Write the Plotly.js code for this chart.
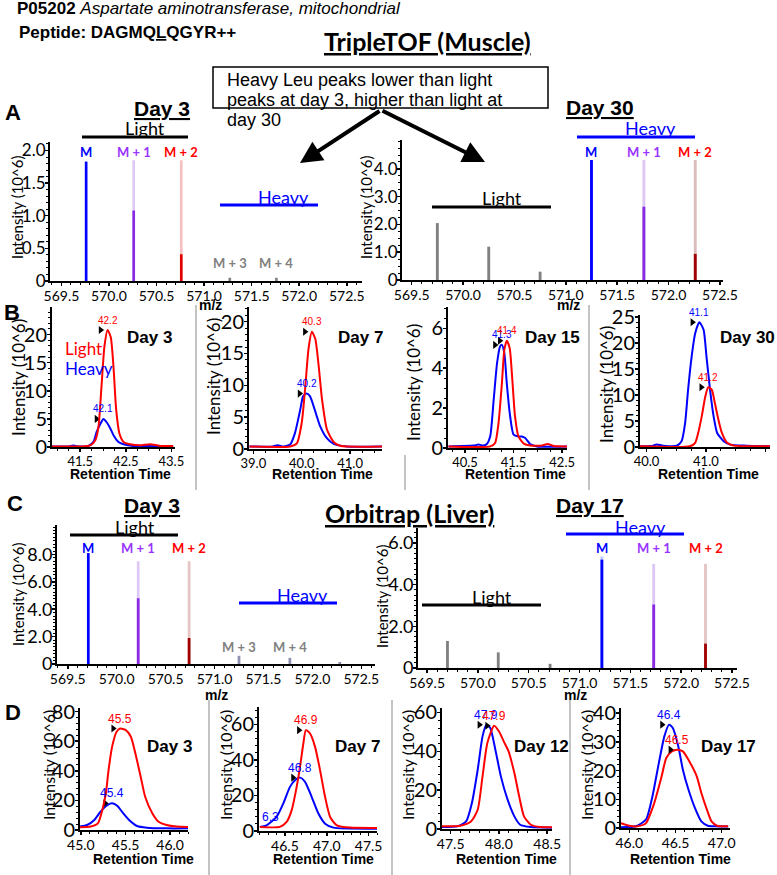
<!DOCTYPE html>
<html>
<head>
<meta charset="utf-8">
<script src="https://cdn.plot.ly/plotly-3.0.1.min.js"></script>
<style>html,body{margin:0;padding:0;background:#fff;}#chart{width:777px;height:875px;}</style>
</head>
<body>
<div id="chart"></div>
<script>
// ===================== DATA =====================
// Panel A: TripleTOF (muscle) MS1 spectra, intensity (10^6)
const A_d3_mz = [569.76, 570.26, 570.76, 571.27, 571.76];
const A_d3_int = [1.83, 1.08, 0.41, 0.05, 0.05];
const A_d3_ref_mz = [570.26, 570.76];
const A_d3_ref = [1.85, 1.85];
const A_d30_mz = [569.75, 570.25, 570.75, 571.25, 571.76, 572.26];
const A_d30_int = [2.05, 1.2, 0.3, 4.32, 2.64, 0.94];
const A_d30_ref_mz = [571.76, 572.26];
const A_d30_ref = [4.32, 4.32];
// Panel C: Orbitrap (liver) MS1 spectra
const C_d3_mz = [569.71, 570.22, 570.74, 571.25, 571.77, 572.28];
const C_d3_int = [8.1, 4.8, 1.9, 0.6, 0.45, 0.15];
const C_d3_ref_mz = [570.22, 570.74];
const C_d3_ref = [7.5, 7.5];
const C_d17_mz = [569.70, 570.20, 570.71, 571.22, 571.73, 572.24];
const C_d17_int = [1.3, 0.75, 0.2, 5.2, 3.05, 1.17];
const C_d17_ref_mz = [571.22, 571.73, 572.24];
const C_d17_ref = [5.35, 5.0, 5.0];
const isoLabels = ['M', 'M + 1', 'M + 2', 'M + 3', 'M + 4'];

// Panel B: TripleTOF chromatograms (retention time, intensity 10^6)
const B_d3_light_rt = [40.88, 41.72, 41.83, 41.90, 41.97, 42.03, 42.10, 42.17, 42.23, 42.29, 42.36, 42.45, 42.59, 42.81, 43.03, 43.25, 43.54];
const B_d3_light = [0.1, 0.3, 1.2, 3.6, 11.2, 17.8, 20.8, 19.5, 14.2, 6.5, 2.4, 0.9, 0.5, 0.3, 0.5, 0.2, 0.2];
const B_d3_heavy_rt = [40.88, 41.25, 41.35, 41.45, 41.68, 41.79, 41.86, 41.94, 42.01, 42.08, 42.16, 42.23, 42.34, 42.45, 42.66, 42.96, 43.54];
const B_d3_heavy = [0.1, 0.1, 0.25, 0.1, 0.2, 0.9, 2.7, 4.1, 5.0, 4.4, 3.3, 2.1, 0.9, 0.5, 0.2, 0.2, 0.1];
const B_d7_light_rt = [38.92, 39.76, 39.90, 40.00, 40.07, 40.14, 40.21, 40.28, 40.35, 40.42, 40.52, 40.66, 40.79, 41.66];
const B_d7_light = [0.4, 0.4, 0.9, 4.1, 9.4, 15.7, 18.4, 17.3, 13.1, 7.8, 3.1, 1.1, 0.5, 0.4];
const B_d7_heavy_rt = [38.92, 39.40, 39.50, 39.60, 39.76, 39.86, 39.97, 40.03, 40.10, 40.17, 40.28, 40.38, 40.52, 40.66, 40.93, 41.66];
const B_d7_heavy = [0.4, 0.4, 0.6, 0.4, 0.7, 2.5, 6.2, 8.3, 8.7, 8.3, 5.9, 3.6, 1.7, 0.8, 0.4, 0.4];
const B_d15_light_rt = [40.16, 41.02, 41.12, 41.19, 41.26, 41.31, 41.36, 41.42, 41.47, 41.53, 41.60, 41.71, 41.84, 42.09, 42.20, 42.33, 42.60];
const B_d15_light = [0.08, 0.08, 0.25, 1.25, 3.25, 4.92, 5.38, 5.0, 3.58, 1.58, 0.58, 0.22, 0.13, 0.13, 0.2, 0.1, 0.08];
const B_d15_heavy_rt = [40.16, 40.67, 40.78, 40.88, 40.95, 41.02, 41.09, 41.16, 41.22, 41.26, 41.31, 41.36, 41.43, 41.50, 41.60, 41.67, 41.74, 41.84, 41.98, 42.60];
const B_d15_heavy = [0.08, 0.12, 0.17, 0.12, 0.2, 0.6, 2.4, 4.25, 5.08, 5.17, 4.75, 3.25, 1.58, 0.67, 0.58, 0.58, 0.5, 0.2, 0.08, 0.08];
const B_d30_light_rt = [39.89, 40.73, 40.82, 40.87, 40.93, 40.99, 41.04, 41.10, 41.15, 41.21, 41.27, 41.35, 41.46, 42.08];
const B_d30_light = [0.13, 0.13, 0.8, 2.7, 5.9, 9.7, 11.5, 11.0, 8.5, 5.3, 2.7, 0.9, 0.3, 0.13];
const B_d30_heavy_rt = [39.89, 40.11, 40.17, 40.28, 40.51, 40.59, 40.65, 40.70, 40.76, 40.82, 40.89, 40.96, 41.01, 41.07, 41.13, 41.19, 41.30, 41.41, 41.69, 42.08];
const B_d30_heavy = [0.13, 0.26, 0.5, 0.26, 0.26, 1.1, 4.6, 11.0, 17.4, 21.9, 24.0, 22.6, 17.4, 11.0, 5.9, 2.7, 1.1, 0.45, 0.26, 0.13];
const B_days = ['Day 3', 'Day 7', 'Day 15', 'Day 30'];
const B_light_labels = ['42.2', '40.3', '41.4', '41.2'];
const B_heavy_labels = ['42.1', '40.2', '41.3', '41.1'];

// Panel D: Orbitrap chromatograms
const D_d3_light_rt = [44.99, 45.11, 45.19, 45.24, 45.28, 45.31, 45.35, 45.40, 45.44, 45.50, 45.56, 45.61, 45.67, 45.72, 45.80, 45.87, 45.96, 46.07, 46.20];
const D_d3_light = [1.8, 2.3, 4.5, 13.5, 24.8, 40.5, 56.3, 66.4, 68.5, 67.6, 63.0, 51.8, 36.0, 22.5, 11.3, 5.6, 3.4, 2.3, 2.0];
const D_d3_heavy_rt = [44.99, 45.07, 45.15, 45.22, 45.30, 45.35, 45.41, 45.46, 45.54, 45.63, 45.74, 45.96, 46.20];
const D_d3_heavy = [2.3, 3.4, 6.8, 12.4, 16.9, 18.0, 16.2, 12.4, 6.8, 2.7, 1.6, 1.1, 1.1];
const D_d7_light_rt = [46.20, 46.44, 46.52, 46.58, 46.64, 46.68, 46.72, 46.75, 46.80, 46.86, 46.92, 46.98, 47.04, 47.12, 47.28, 47.60];
const D_d7_light = [2.3, 2.3, 5.1, 11.6, 24.8, 36.0, 49.2, 56.7, 54.8, 47.3, 34.1, 19.1, 7.9, 3.2, 1.9, 1.7];
const D_d7_heavy_rt = [46.20, 46.28, 46.40, 46.48, 46.56, 46.62, 46.68, 46.74, 46.82, 46.90, 46.98, 47.08, 47.60];
const D_d7_heavy = [2.3, 3.2, 7.9, 15.4, 24.8, 28.5, 30.0, 27.6, 19.1, 9.8, 4.1, 1.9, 1.3];
const D_d12_light_rt = [47.41, 47.60, 47.71, 47.78, 47.83, 47.88, 47.95, 48.00, 48.05, 48.10, 48.16, 48.21, 48.26, 48.33, 48.43, 48.55];
const D_d12_light = [1.4, 1.7, 3.9, 9.9, 27.1, 44.3, 53.2, 50.3, 45.1, 40.0, 28.8, 16.8, 6.5, 2.2, 1.0, 0.9];
const D_d12_heavy_rt = [47.41, 47.57, 47.66, 47.72, 47.78, 47.83, 47.87, 47.91, 47.97, 48.02, 48.09, 48.16, 48.22, 48.33, 48.55];
const D_d12_heavy = [1.0, 1.4, 3.9, 13.4, 30.5, 47.7, 53.7, 52.0, 39.1, 27.1, 15.1, 6.5, 2.2, 1.0, 0.7];
const D_d17_light_rt = [45.91, 46.00, 46.09, 46.18, 46.27, 46.35, 46.40, 46.46, 46.52, 46.58, 46.65, 46.73, 46.78, 46.84, 46.89, 46.95, 47.07];
const D_d17_light = [1.7, 0.8, 0.6, 1.7, 8.7, 18.0, 24.4, 26.7, 27.3, 26.7, 23.2, 18.0, 12.2, 6.4, 2.3, 0.8, 0.6];
const D_d17_heavy_rt = [45.91, 46.07, 46.18, 46.25, 46.32, 46.38, 46.43, 46.47, 46.53, 46.58, 46.64, 46.71, 46.78, 46.85, 46.93, 47.07];
const D_d17_heavy = [0.3, 0.6, 2.9, 11.0, 22.7, 32.0, 36.0, 34.9, 28.5, 20.3, 13.4, 7.0, 2.3, 0.8, 0.6, 0.5];
const D_days = ['Day 3', 'Day 7', 'Day 12', 'Day 17'];
const D_light_labels = ['45.5', '46.9', '47.9', '46.5'];
const D_heavy_labels = ['45.4', '46.8', '47.9', '46.4'];

// ===================== DRAWING =====================
const W = 777, H = 875;
const AR = 'Liberation Sans, Arial, sans-serif';
const CA = 'Lato, Carlito, sans-serif';
const RED = '#ff0000', BLUE = '#0000ff', PURPLE = '#8a2be2', GRAY = '#808080';

const traces = [], annotations = [], shapes = [];
const layout = {
  width: W, height: H, margin: {l: 0, r: 0, t: 0, b: 0},
  paper_bgcolor: '#fff', plot_bgcolor: 'rgba(0,0,0,0)',
  showlegend: false, barmode: 'overlay', hovermode: false
};

let n = 0;
function axisBase(fs, standoff) {
  return {showline: true, linecolor: '#000', linewidth: 2, ticks: 'outside', ticklen: 3, tickwidth: 1.5,
    tickcolor: '#000', showgrid: false, zeroline: false, fixedrange: true, ticklabelstandoff: standoff,
    tickfont: {family: CA, size: fs, color: '#000'}};
}
// box = [left, right, top, bottom] in pixels
function sub(box, xr, yr, xo, yo, xfs, yfs) {
  n++;
  const s = n === 1 ? '' : String(n);
  layout['xaxis' + s] = Object.assign(axisBase(xfs, -2), {domain: [box[0] / W, box[1] / W], range: xr, anchor: 'y' + s}, xo);
  layout['yaxis' + s] = Object.assign(axisBase(yfs, -4), {domain: [1 - box[3] / H, 1 - box[2] / H], range: yr, anchor: 'x' + s}, yo);
  return {x: 'x' + s, y: 'y' + s, box: box, xr: xr, yr: yr};
}
function txt(x, y, text, size, opts) {
  const a = {xref: 'paper', yref: 'paper', x: x / W, y: 1 - y / H, text: text, showarrow: false,
    font: {family: AR, size: size, color: '#000'}, xanchor: 'center', yanchor: 'middle'};
  if (opts) {
    if (opts.font) { Object.assign(a.font, opts.font); }
    for (const k in opts) { if (k !== 'font') a[k] = opts[k]; }
  }
  annotations.push(a);
}
function hline(x0, x1, y, color, w) {
  shapes.push({type: 'line', xref: 'paper', yref: 'paper', x0: x0 / W, x1: x1 / W, y0: 1 - y / H, y1: 1 - y / H,
    line: {color: color, width: w}});
}
function vline(x, y0, y1, color, w) {
  shapes.push({type: 'line', xref: 'paper', yref: 'paper', x0: x / W, x1: x / W, y0: 1 - y0 / H, y1: 1 - y1 / H,
    line: {color: color, width: w}});
}
function spectrum(ax, mz, ints, cols, refMz, ref, refCols, w) {
  traces.push({type: 'bar', x: refMz, y: ref, width: w, marker: {color: refCols, line: {width: 0}},
    xaxis: ax.x, yaxis: ax.y, hoverinfo: 'skip'});
  traces.push({type: 'bar', x: mz, y: ints, width: w, marker: {color: cols, line: {width: 0}},
    xaxis: ax.x, yaxis: ax.y, hoverinfo: 'skip'});
}
function isoText(ax, mz, labels, cols, ypx, size) {
  for (let i = 0; i < labels.length; i++) {
    annotations.push({xref: ax.x, yref: 'paper', x: mz[i], y: 1 - ypx / H, text: '<b>' + labels[i] + '</b>',
      showarrow: false, font: {family: CA, size: size, color: cols[i]}, xanchor: 'center', yanchor: 'middle'});
  }
}
function chrom(ax, rt, vals, color, label, lsize) {
  traces.push({type: 'scatter', mode: 'lines', x: rt, y: vals, xaxis: ax.x, yaxis: ax.y,
    line: {color: color, width: 2, shape: 'spline', smoothing: 0.6}, hoverinfo: 'skip'});
  let im = 0;
  for (let i = 1; i < vals.length; i++) if (vals[i] > vals[im]) im = i;
  const ppu = (ax.box[1] - ax.box[0]) / (ax.xr[1] - ax.xr[0]);
  traces.push({type: 'scatter', mode: 'markers', x: [rt[im] - 7 / ppu], y: [vals[im]], xaxis: ax.x, yaxis: ax.y,
    marker: {symbol: 'triangle-right', size: 7, color: '#000'}, hoverinfo: 'skip'});
  annotations.push({xref: ax.x, yref: ax.y, x: rt[im], y: vals[im], yshift: 10, text: label, showarrow: false,
    font: {family: AR, size: lsize, color: color}, xanchor: 'center', yanchor: 'middle'});
}
function ytitle(x, y, size) {
  txt(x, y, 'Intensity (10^6)', size, {textangle: -90, font: {family: CA}});
}
function tv(vals, texts) { return {tickmode: 'array', tickvals: vals, ticktext: texts}; }
const bold = (s) => '<b>' + s + '</b>';
const UL = {lineposition: 'under'};
const MINOR = (d, t0) => ({ticks: 'outside', ticklen: 2, tickcolor: '#000', tickwidth: 1, dtick: d, tick0: t0 || 0});

// ---------- Header ----------
txt(15, 9, '<b>P05202</b> <i>Aspartate aminotransferase, mitochondrial</i>', 17, {xanchor: 'left'});
txt(17, 33, '<b>Peptide: DAGMQ<u>L</u>QGYR++</b>', 17, {xanchor: 'left'});
txt(427, 41, bold('TripleTOF (Muscle)'), 25, {font: Object.assign({family: CA}, UL)});
shapes.push({type: 'rect', xref: 'paper', yref: 'paper', x0: 213 / W, x1: 548 / W, y0: 1 - 108 / H, y1: 1 - 67 / H,
  line: {color: '#000', width: 1.5}, fillcolor: 'rgba(0,0,0,0)'});
txt(225, 80, 'Heavy Leu peaks lower than light', 18, {xanchor: 'left'});
txt(225, 100, 'peaks at day 3, higher than light at', 18, {xanchor: 'left'});
txt(225, 120, 'day 30', 18, {xanchor: 'left'});
annotations.push({xref: 'paper', yref: 'paper', x: 300 / W, y: 1 - 163 / H, ax: 81, ay: -53, text: '',
  showarrow: true, arrowhead: 2, arrowwidth: 4, arrowsize: 1.1, arrowcolor: '#000'});
annotations.push({xref: 'paper', yref: 'paper', x: 485 / W, y: 1 - 162 / H, ax: -104, ay: -52, text: '',
  showarrow: true, arrowhead: 2, arrowwidth: 4, arrowsize: 1.1, arrowcolor: '#000'});
txt(13, 113, bold('A'), 22);
txt(12, 312, bold('B'), 22);
txt(15, 503, bold('C'), 22);
txt(13, 712, bold('D'), 22);

// ---------- Panel A ----------
const specX = {tickmode: 'linear', tick0: 569.5, dtick: 0.5, tickformat: '.1f', minor: MINOR(0.1, 569.5)};
const axA1 = sub([50, 362, 142, 281], [569.38, 572.66], [0, 2.13], specX,
  Object.assign(tv([0, 0.5, 1, 1.5, 2], ['0', '0.5', '1.0', '1.5', '2.0']), {minor: MINOR(0.1)}), 14, 17);
spectrum(axA1, A_d3_mz, A_d3_int, [BLUE, PURPLE, '#e00000', GRAY, GRAY], A_d3_ref_mz, A_d3_ref, ['#ddc8f5', '#f5c0c0'], 0.028);
isoText(axA1, A_d3_mz.slice(0, 3), isoLabels.slice(0, 3), [BLUE, '#9933ff', RED], 152, 13);
isoText(axA1, A_d3_mz.slice(3), isoLabels.slice(3), [GRAY, GRAY], 263, 13);
txt(162, 108, bold('Day 3'), 21, {font: UL});
txt(145, 128, 'Light', 18, {font: {family: CA}});
hline(82, 188, 137, '#000', 3);
txt(283, 197, 'Heavy', 18, {font: {family: CA, color: BLUE}});
hline(220, 318, 205, BLUE, 3);
ytitle(17, 208, 15);
txt(210, 305, bold('m/z'), 14);

const axA2 = sub([402, 723, 140, 280], [569.406, 572.53], [0, 5.04], specX,
  Object.assign(tv([0, 1, 2, 3, 4], ['0', '1.0', '2.0', '3.0', '4.0']), {minor: MINOR(0.25)}), 14, 17);
spectrum(axA2, A_d30_mz, A_d30_int, [GRAY, GRAY, GRAY, BLUE, PURPLE, '#a00000'], A_d30_ref_mz, A_d30_ref, ['#ddc8f5', '#dcbcbc'], 0.028);
isoText(axA2, A_d30_mz.slice(3), isoLabels.slice(0, 3), [BLUE, '#9933ff', RED], 152, 13);
txt(600, 107, bold('Day 30'), 21, {font: UL});
txt(650, 128, 'Heavy', 18, {font: {family: CA, color: BLUE}});
hline(577, 695, 137, BLUE, 3);
txt(502, 198, 'Light', 18, {font: {family: CA}});
hline(432, 551, 207, '#000', 3);
ytitle(366, 208, 15);
txt(568, 305, bold('m/z'), 14);

// ---------- Panel B ----------
const bX = (t0) => ({tickmode: 'linear', tick0: t0, dtick: 1, tickformat: '.1f', minor: MINOR(0.25, t0)});
const bY = (d, m) => ({tickmode: 'linear', tick0: 0, dtick: d, minor: MINOR(m)});
const B_boxes = [[52, 175, 307, 447], [249, 382, 307, 449], [448, 567, 307, 448], [640, 770, 315, 447]];
const axB1 = sub(B_boxes[0], [40.88, 43.58], [0, 24.9], bX(41.5), bY(5, 1), 13, 20);
const axB2 = sub(B_boxes[1], [38.91, 41.66], [0, 22.3], bX(39.0), bY(5, 1), 13, 20);
const axB3 = sub(B_boxes[2], [40.15, 42.6], [0, 7.07], bX(40.5), bY(2, 0.5), 13, 20);
const axB4 = sub(B_boxes[3], [39.89, 42.08], [0, 25.4], bX(40.0), bY(5, 1), 13, 20);
const axB = [axB1, axB2, axB3, axB4];
const B_heavy_rt = [B_d3_heavy_rt, B_d7_heavy_rt, B_d15_heavy_rt, B_d30_heavy_rt];
const B_heavy = [B_d3_heavy, B_d7_heavy, B_d15_heavy, B_d30_heavy];
const B_light_rt = [B_d3_light_rt, B_d7_light_rt, B_d15_light_rt, B_d30_light_rt];
const B_light = [B_d3_light, B_d7_light, B_d15_light, B_d30_light];
for (let i = 0; i < 4; i++) {
  chrom(axB[i], B_heavy_rt[i], B_heavy[i], BLUE, B_heavy_labels[i], 10);
  chrom(axB[i], B_light_rt[i], B_light[i], RED, B_light_labels[i], 10);
}
const B_dayX = [149, 360, 552, 747], B_rtX = [120, 322, 515, 708], B_ytX = [19, 213, 413, 607], B_ytY = [378, 377, 383, 385];
for (let i = 0; i < 4; i++) {
  txt(B_dayX[i], 337, bold(B_days[i]), 17);
  txt(B_rtX[i], 474, bold('Retention Time'), 14);
  ytitle(B_ytX[i], B_ytY[i], 17);
}
txt(63, 348, 'Light', 17, {xanchor: 'left', font: {family: CA, color: RED}});
txt(63, 368, 'Heavy', 17, {xanchor: 'left', font: {family: CA, color: BLUE}});
vline(196, 305, 490, '#b0b0b0', 1.5);
vline(405, 455, 490, '#b0b0b0', 1.5);
vline(589, 305, 490, '#b0b0b0', 1.5);

// ---------- Panel C ----------
txt(409, 513, bold('Orbitrap (Liver)'), 25, {font: Object.assign({family: CA}, UL)});
const axC1 = sub([57, 375, 525, 664], [569.39, 572.64], [0, 10.15], specX,
  Object.assign(tv([0, 2, 4, 6, 8], ['0', '2.0', '4.0', '6.0', '8.0']), {minor: MINOR(0.25)}), 14, 18);
spectrum(axC1, C_d3_mz, C_d3_int, [BLUE, PURPLE, '#a00000', '#9090b0', '#9090b0', '#9090b0'], C_d3_ref_mz, C_d3_ref, ['#ddc8f5', '#e4c4c4'], 0.028);
isoText(axC1, C_d3_mz.slice(0, 3), isoLabels.slice(0, 3), [BLUE, '#9933ff', RED], 548, 13);
isoText(axC1, C_d3_mz.slice(3, 5), isoLabels.slice(3), [GRAY, GRAY], 647, 13);
txt(152, 505, bold('Day 3'), 21, {font: UL});
txt(135, 527, 'Light', 18, {font: {family: CA}});
hline(70, 178, 535, '#000', 3);
txt(302, 595, 'Heavy', 18, {font: {family: CA, color: BLUE}});
hline(239, 337, 603, BLUE, 3);
ytitle(18, 595, 15);
txt(216, 695, bold('m/z'), 14);

const axC2 = sub([418, 737, 528, 668], [569.41, 572.55], [0, 6.72], specX,
  Object.assign(tv([0, 2, 4, 6], ['0', '2.0', '4.0', '6.0']), {minor: MINOR(0.25)}), 14, 18);
spectrum(axC2, C_d17_mz, C_d17_int, [GRAY, GRAY, GRAY, BLUE, PURPLE, '#a00000'], C_d17_ref_mz, C_d17_ref, ['#b8c4ff', '#ddc8f5', '#e4c4c4'], 0.028);
isoText(axC2, C_d17_mz.slice(3), isoLabels.slice(0, 3), [BLUE, '#9933ff', RED], 548, 13);
txt(590, 505, bold('Day 17'), 21, {font: UL});
txt(640, 527, 'Heavy', 18, {font: {family: CA, color: BLUE}});
hline(566, 684, 534, BLUE, 3);
txt(492, 597, 'Light', 18, {font: {family: CA}});
hline(422, 541, 605, '#000', 3);
ytitle(382, 597, 15);
txt(575, 695, bold('m/z'), 14);

// ---------- Panel D ----------
const dX = (t0) => ({tickmode: 'linear', tick0: t0, dtick: 0.5, tickformat: '.1f', minor: MINOR(0.1, t0)});
const D_boxes = [[80, 188, 708, 830], [259, 377, 707, 831], [442, 552, 708, 829], [621, 730, 708, 828]];
const axD1 = sub(D_boxes[0], [44.99, 46.2], [0, 82.4], dX(45.0), bY(20, 4), 14, 20);
const axD2 = sub(D_boxes[1], [46.19, 47.6], [0, 69.7], dX(46.5), bY(20, 4), 14, 20);
const axD3 = sub(D_boxes[2], [47.41, 48.55], [0, 62.3], dX(47.5), bY(20, 4), 14, 20);
const axD4 = sub(D_boxes[3], [45.91, 47.09], [0, 41.8], dX(46.0), bY(10, 2), 14, 20);
const axD = [axD1, axD2, axD3, axD4];
const D_heavy_rt = [D_d3_heavy_rt, D_d7_heavy_rt, D_d12_heavy_rt, D_d17_heavy_rt];
const D_heavy = [D_d3_heavy, D_d7_heavy, D_d12_heavy, D_d17_heavy];
const D_light_rt = [D_d3_light_rt, D_d7_light_rt, D_d12_light_rt, D_d17_light_rt];
const D_light = [D_d3_light, D_d7_light, D_d12_light, D_d17_light];
for (let i = 0; i < 4; i++) {
  chrom(axD[i], D_heavy_rt[i], D_heavy[i], BLUE, D_heavy_labels[i], 12);
  chrom(axD[i], D_light_rt[i], D_light[i], RED, D_light_labels[i], 12);
}
const D_dayX = [169, 357, 541, 728], D_rtX = [143, 323, 506, 680], D_ytX = [48, 225, 407, 586];
for (let i = 0; i < 4; i++) {
  txt(D_dayX[i], 746, bold(D_days[i]), 17);
  txt(D_rtX[i], 859, bold('Retention Time'), 14);
  ytitle(D_ytX[i], 765, 16);
}
txt(270, 817, '6.3', 12, {font: {color: BLUE}});
vline(209, 700, 875, '#b0b0b0', 1.5);
vline(392, 700, 875, '#b0b0b0', 1.5);
vline(570, 700, 875, '#b0b0b0', 1.5);

layout.annotations = annotations;
layout.shapes = shapes;
Plotly.newPlot('chart', traces, layout, {staticPlot: true, displayModeBar: false});
</script>
</body>
</html>
